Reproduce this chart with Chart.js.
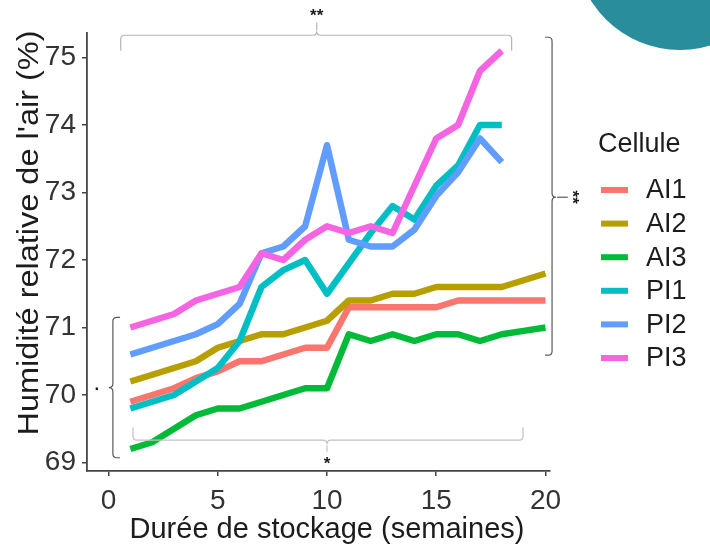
<!DOCTYPE html>
<html>
<head>
<meta charset="utf-8">
<script src="https://cdn.jsdelivr.net/npm/chart.js@4.4.1/dist/chart.umd.min.js"></script>
<style>
  html, body { margin: 0; padding: 0; background: #ffffff; }
  #wrap { position: relative; width: 710px; height: 553px; }
</style>
</head>
<body>
<div id="wrap"><canvas id="c" width="710" height="553"></canvas></div>
<script>
// Storage weeks
const weeksAI = [1, 2, 3, 4, 5, 6, 7, 8, 9, 10, 11, 12, 13, 14, 15, 16, 17, 18, 19, 20];
const weeksPI = [1, 2, 3, 4, 5, 6, 7, 8, 9, 10, 11, 12, 13, 14, 15, 16, 17, 18];

// Relative air humidity (%) per storage cell
const cellNames = ['AI1', 'AI2', 'AI3', 'PI1', 'PI2', 'PI3'];
const AI1 = [69.9, 70.0, 70.1, 70.25, 70.35, 70.5, 70.5, 70.6, 70.7, 70.7, 71.3, 71.3, 71.3, 71.3, 71.3, 71.4, 71.4, 71.4, 71.4, 71.4];
const AI2 = [70.2, 70.3, 70.4, 70.5, 70.7, 70.8, 70.9, 70.9, 71.0, 71.1, 71.4, 71.4, 71.5, 71.5, 71.6, 71.6, 71.6, 71.6, 71.7, 71.8];
const AI3 = [69.2, 69.3, 69.5, 69.7, 69.8, 69.8, 69.9, 70.0, 70.1, 70.1, 70.9, 70.8, 70.9, 70.8, 70.9, 70.9, 70.8, 70.9, 70.95, 71.0];
const PI1 = [69.8, 69.9, 70.0, 70.2, 70.4, 70.8, 71.6, 71.85, 72.0, 71.5, 71.95, 72.4, 72.8, 72.6, 73.1, 73.4, 74.0, 74.0];
const PI2 = [70.6, 70.7, 70.8, 70.9, 71.05, 71.35, 72.1, 72.2, 72.5, 73.7, 72.3, 72.2, 72.2, 72.45, 72.95, 73.3, 73.8, 73.45];
const PI3 = [71.0, 71.1, 71.2, 71.4, 71.5, 71.6, 72.1, 72.0, 72.3, 72.5, 72.4, 72.5, 72.4, 73.1, 73.8, 74.0, 74.8, 75.1];

// Axis ticks
const xTickValues = [0, 5, 10, 15, 20];
const yTickValues = [69, 70, 71, 72, 73, 74, 75];

// Significance braces labels
const braceLabels = ['**', '*', '.', '**'];

const palette = ['#F8766D', '#B79F00', '#00BA38', '#00BFC4', '#619CFF', '#F564E3'];
const seriesValues = [AI1, AI2, AI3, PI1, PI2, PI3];
const seriesWeeks = [weeksAI, weeksAI, weeksAI, weeksPI, weeksPI, weeksPI];

const FONT = "'Liberation Sans', Arial, sans-serif";

const datasets = cellNames.map((name, i) => ({
  label: name,
  data: seriesWeeks[i].map((w, k) => ({ x: w, y: seriesValues[i][k] })),
  borderColor: palette[i],
  backgroundColor: palette[i],
  borderWidth: 6.5,
  pointRadius: 0,
  pointHoverRadius: 0,
  tension: 0,
  fill: false,
  borderJoinStyle: 'round',
  borderCapStyle: 'butt',
  order: cellNames.length - 1 - i
}));

// Brace geometry in data units
const braces = [
  { orient: 'h', a0: 0.56, a1: 18.45, pos: 75.33, arm: 75.10, mid: 9.53, stem: 75.52, labelPos: 75.67, label: braceLabels[0], color: '#b5b5b5' },
  { orient: 'h', a0: 1.12, a1: 18.97, pos: 69.33, arm: 69.52, mid: 10.0, stem: 69.16, labelPos: 69.03, label: braceLabels[1], color: '#c2c2c2' },
  { orient: 'v', a0: 69.07, a1: 71.15, pos: 0.2, arm: 0.53, mid: 70.11, stem: null, labelPos: -0.53, label: braceLabels[2], color: '#5a5a5a' },
  { orient: 'v', a0: 70.59, a1: 75.30, pos: 20.3, arm: 19.98, mid: 72.93, stem: 21.02, labelPos: 21.4, label: braceLabels[3], color: '#5a5a5a' }
];

const decorPlugin = {
  id: 'decor',
  beforeDraw(chart) {
    const ctx = chart.ctx;
    ctx.save();
    ctx.fillStyle = '#ffffff';
    ctx.fillRect(0, 0, chart.width, chart.height);
    // corner disc
    ctx.fillStyle = '#2a8d9c';
    ctx.beginPath();
    ctx.arc(680, -55, 105, 0, Math.PI * 2);
    ctx.fill();
    ctx.restore();
  },
  afterDraw(chart) {
    const ctx = chart.ctx;
    const xs = chart.scales.x, ys = chart.scales.y;
    ctx.save();

    // Axis titles
    ctx.fillStyle = '#1c1c1c';
    ctx.font = '29px ' + FONT;
    ctx.textAlign = 'center';
    ctx.textBaseline = 'middle';
    ctx.fillText('Durée de stockage (semaines)', 327, 530);
    const yTitle = "Humidité relative de l'air (%)";
    const stretch = 405 / ctx.measureText(yTitle).width;
    ctx.save();
    ctx.translate(30, 233);
    ctx.rotate(-Math.PI / 2);
    ctx.scale(stretch, 1);
    ctx.fillText(yTitle, 0, 0);
    ctx.restore();

    // Significance braces
    const r = 4;
    braces.forEach(b => {
      const alongPx = v => b.orient === 'h' ? xs.getPixelForValue(v) : ys.getPixelForValue(v);
      const crossPx = v => b.orient === 'h' ? ys.getPixelForValue(v) : xs.getPixelForValue(v);
      const pt = (a, c) => b.orient === 'h' ? [a, c] : [c, a];
      let A0 = alongPx(b.a0), A1 = alongPx(b.a1);
      if (A0 > A1) { const t = A0; A0 = A1; A1 = t; }
      const P = crossPx(b.pos), ARM = crossPx(b.arm), M = alongPx(b.mid);
      const s = Math.sign(P - ARM);
      ctx.strokeStyle = b.color;
      ctx.lineWidth = 1.2;
      ctx.beginPath();
      ctx.moveTo(...pt(A0, ARM));
      ctx.lineTo(...pt(A0, P - s * r));
      ctx.quadraticCurveTo(...pt(A0, P), ...pt(A0 + r, P));
      ctx.lineTo(...pt(M - r, P));
      ctx.quadraticCurveTo(...pt(M, P), ...pt(M, P + s * r));
      ctx.quadraticCurveTo(...pt(M, P), ...pt(M + r, P));
      ctx.lineTo(...pt(A1 - r, P));
      ctx.quadraticCurveTo(...pt(A1, P), ...pt(A1, P - s * r));
      ctx.lineTo(...pt(A1, ARM));
      ctx.stroke();
      if (b.stem !== null) {
        ctx.beginPath();
        ctx.moveTo(...pt(M, P + s * (r + 1)));
        ctx.lineTo(...pt(M, crossPx(b.stem)));
        ctx.stroke();
      }
      const [lx, ly] = pt(M, crossPx(b.labelPos));
      ctx.fillStyle = '#1a1a1a';
      ctx.font = 'bold 17px ' + FONT;
      ctx.textAlign = 'center';
      if (b.orient === 'v' && b.label !== '.') {
        ctx.save();
        ctx.translate(lx, ly);
        ctx.rotate(Math.PI / 2);
        ctx.textBaseline = 'middle';
        ctx.fillText(b.label, 0, 4);
        ctx.restore();
      } else if (b.label === '.') {
        ctx.textBaseline = 'alphabetic';
        ctx.fillText(b.label, lx, ly + 2);
      } else {
        ctx.textBaseline = 'middle';
        ctx.fillText(b.label, lx, ly + 4);
      }
    });

    // Legend
    ctx.fillStyle = '#1c1c1c';
    ctx.textAlign = 'left';
    ctx.textBaseline = 'middle';
    ctx.font = '27px ' + FONT;
    ctx.fillText('Cellule', 598, 145);
    chart.data.datasets.forEach((ds, i) => {
      const y = 190 + i * 33.6;
      ctx.strokeStyle = ds.borderColor;
      ctx.lineWidth = 6;
      ctx.lineCap = 'butt';
      ctx.beginPath();
      ctx.moveTo(601, y);
      ctx.lineTo(628, y);
      ctx.stroke();
      ctx.fillStyle = '#1c1c1c';
      ctx.fillText(ds.label, 646, y + 1);
    });
    ctx.restore();
  }
};

new Chart(document.getElementById('c'), {
  type: 'line',
  data: { datasets },
  options: {
    responsive: false,
    animation: false,
    devicePixelRatio: 1,
    layout: { padding: { left: 0, top: 33, right: 160, bottom: 0 } },
    plugins: {
      legend: { display: false },
      tooltip: { enabled: false },
      title: { display: false }
    },
    scales: {
      x: {
        type: 'linear',
        min: -0.984,
        max: 20.206,
        afterBuildTicks: axis => { axis.ticks = xTickValues.map(v => ({ value: v })); },
        afterFit: axis => { axis.height = 82; },
        grid: { drawOnChartArea: false, drawTicks: true, tickLength: 5, color: '#444', lineWidth: 1.5 },
        border: { display: true, color: '#444', width: 1.8 },
        ticks: {
          padding: 8,
          color: '#333',
          font: { family: FONT, size: 28 },
          maxRotation: 0,
          autoSkip: false,
          callback: v => String(v)
        }
      },
      y: {
        type: 'linear',
        min: 68.874,
        max: 75.363,
        afterBuildTicks: axis => { axis.ticks = yTickValues.map(v => ({ value: v })); },
        afterFit: axis => { axis.width = 87; },
        grid: { drawOnChartArea: false, drawTicks: true, tickLength: 5, color: '#444', lineWidth: 1.5 },
        border: { display: true, color: '#444', width: 1.8 },
        ticks: {
          padding: 6,
          color: '#333',
          font: { family: FONT, size: 28 },
          autoSkip: false,
          callback: v => String(v)
        }
      }
    }
  },
  plugins: [decorPlugin]
});
</script>
</body>
</html>
